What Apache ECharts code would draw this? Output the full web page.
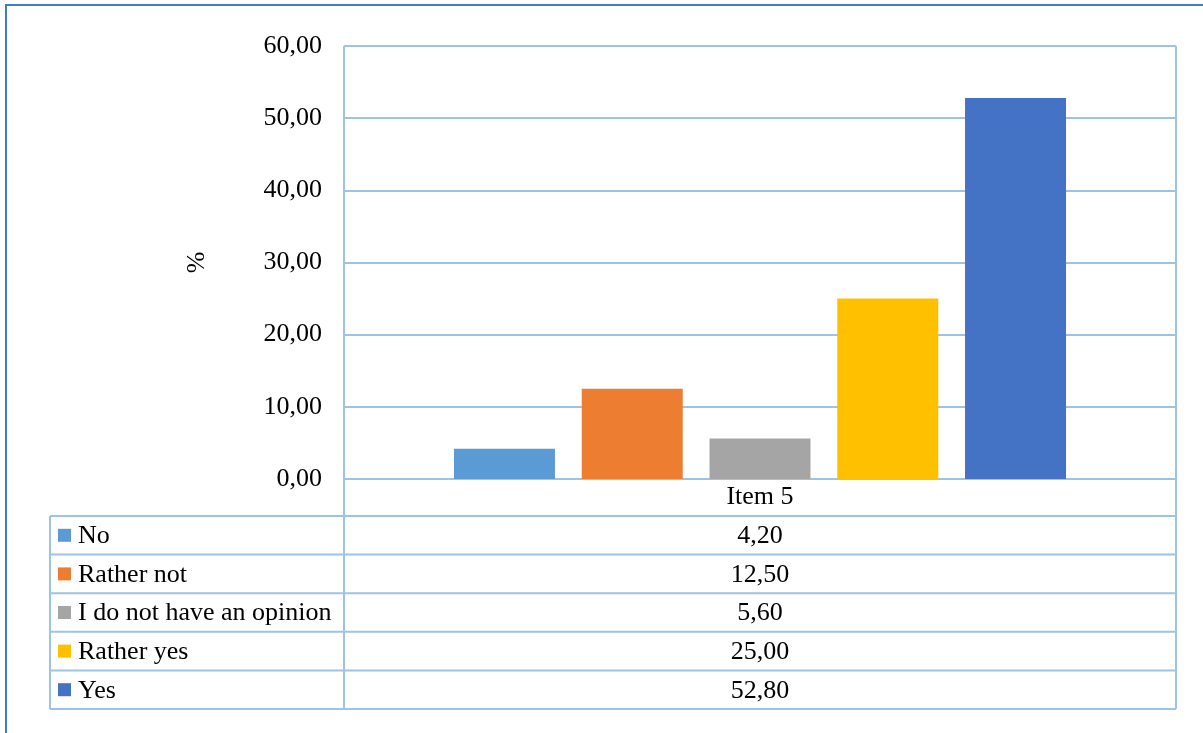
<!DOCTYPE html>
<html>
<head>
<meta charset="utf-8">
<script src="https://cdn.jsdelivr.net/npm/echarts@6/dist/echarts.min.js"></script>
<style>
  html, body { margin: 0; padding: 0; background: #fff; }
  #chart { width: 1203px; height: 733px; }
</style>
</head>
<body>
<div id="chart"></div>
<script>
// Survey answers for Item 5, in percent
const categories = ['Item 5'];
const seriesNames = ['No', 'Rather not', 'I do not have an opinion', 'Rather yes', 'Yes'];
const seriesValues = [4.20, 12.50, 5.60, 25.00, 52.80];
const seriesColors = ['#5b9bd5', '#ed7d31', '#a5a5a5', '#ffc000', '#4472c4'];
const yTicks = [0, 10, 20, 30, 40, 50, 60];

const FONT = '"Liberation Serif", "Times New Roman", serif';
const FS = 26;
const LINE = '#9dc3e6';
const LW = 2;
const FRAME = '#3f7dc4';

// layout of plot and data table
const G = { left: 344, top: 46, width: 832, height: 433 };
const tableTop = 516;                        // bottom of the category label row
const tableBottom = 709;
const tableLeft = 50;
const rowH = (tableBottom - tableTop) / seriesNames.length;
const plotRight = G.left + G.width;

const fmt = v => v.toFixed(2).replace('.', ',');

const chart = echarts.init(document.getElementById('chart'), null, { renderer: 'canvas' });

const graphics = [];
const rule = (x1, y1, x2, y2, stroke, w) =>
  graphics.push({ type: 'line', shape: { x1, y1, x2, y2 }, style: { stroke, lineWidth: w }, silent: true, z: 10 });

// outer frame (top and left edges)
rule(5, 5, 1203, 5, FRAME, 2);
rule(6, 5, 6, 733, FRAME, 2);
// vertical borders of plot area + data table
rule(G.left, G.top, G.left, tableBottom, LINE, LW);
rule(plotRight, G.top, plotRight, tableBottom, LINE, LW);
rule(tableLeft, tableTop, tableLeft, tableBottom, LINE, LW);
// horizontal table rules
for (let i = 0; i <= seriesNames.length; i++) {
  const y = tableTop + i * rowH;
  rule(tableLeft, y, plotRight, y, LINE, LW);
}
// table rows: legend key, series name, value
seriesNames.forEach((name, i) => {
  const cy = tableTop + (i + 0.5) * rowH;
  graphics.push({
    type: 'rect', shape: { x: 58, y: cy - 6.5, width: 13, height: 13 },
    style: { fill: seriesColors[i] }, silent: true
  });
  graphics.push({
    type: 'text', x: 78, y: cy + 1,
    style: { text: name, font: FS + 'px ' + FONT, fill: '#000', textAlign: 'left', textVerticalAlign: 'middle' },
    silent: true
  });
  graphics.push({
    type: 'text', x: (G.left + plotRight) / 2, y: cy + 1,
    style: { text: fmt(seriesValues[i]), font: FS + 'px ' + FONT, fill: '#000', textAlign: 'center', textVerticalAlign: 'middle' },
    silent: true
  });
});

const option = {
  animation: false,
  backgroundColor: '#fff',
  grid: { left: G.left, top: G.top, width: G.width, height: G.height, containLabel: false },
  xAxis: {
    type: 'category',
    data: categories,
    axisLine: { show: true, lineStyle: { color: LINE, width: LW } },
    axisTick: { show: false },
    axisLabel: { fontFamily: FONT, fontSize: FS, color: '#000', margin: 5 }
  },
  yAxis: {
    type: 'value',
    min: yTicks[0],
    max: yTicks[yTicks.length - 1],
    interval: yTicks[1] - yTicks[0],
    name: '%',
    nameLocation: 'middle',
    nameGap: 134,
    nameRotate: 90,
    nameTextStyle: { fontFamily: FONT, fontSize: FS, color: '#000' },
    axisLine: { show: false },
    axisTick: { show: false },
    splitLine: { lineStyle: { color: LINE, width: LW } },
    axisLabel: { fontFamily: FONT, fontSize: FS, color: '#000', margin: 22, formatter: v => fmt(v) }
  },
  series: seriesNames.map((name, i) => ({
    name,
    type: 'bar',
    data: [seriesValues[i]],
    barWidth: 101,
    barGap: '26.5%',
    itemStyle: { color: seriesColors[i] }
  })),
  graphic: graphics
};

chart.setOption(option);
</script>
</body>
</html>
